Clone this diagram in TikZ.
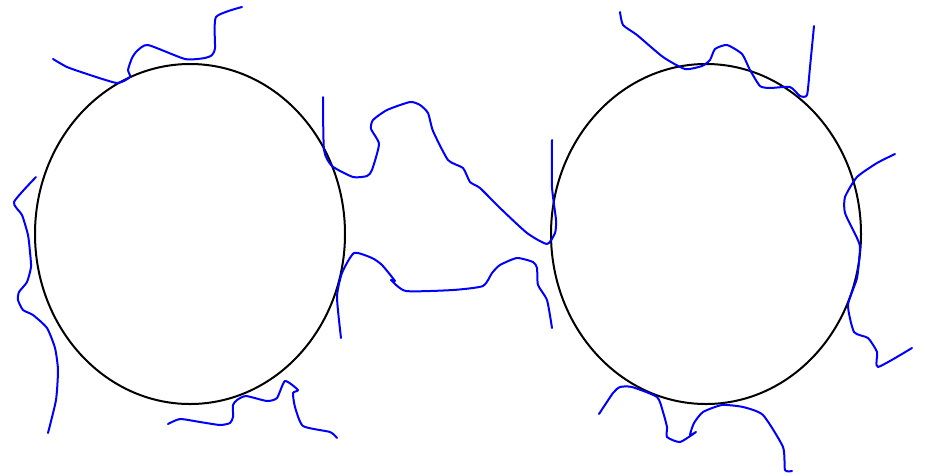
\documentclass[tikz,border=0pt]{standalone}
\usepackage{tikz}

\begin{document}
\begin{tikzpicture}[x=1pt,y=-1pt,
  grain/.style={draw=black,line width=2pt},
  chain/.style={draw=blue,line width=2pt,line join=round,line cap=round}]
\useasboundingbox (0,0) rectangle (926,475);
% particles
\coordinate (pL) at (190,234);
\coordinate (pR) at (706,234);
\draw[grain] (pL) ellipse [x radius=155pt,y radius=170pt];
\draw[grain] (pR) ellipse [x radius=155pt,y radius=170pt];
% grafted chains, left particle
\draw[chain] plot[smooth,tension=0.35] coordinates {(53,59) (67,67) (87,74) (117,83) (130,77) (128,70) (132,58) (137,51) (148,45) (185,59) (205,58) (212,55) (215,48) (216,17) (242,7)};
\draw[chain] plot[smooth,tension=0.35] coordinates {(36,177) (14,202) (22,215) (28,235) (30,252) (31,267) (27,282) (19,292) (18,300) (23,310) (33,315) (47,328) (55,348) (58,370) (56,400) (48,433)};
\draw[chain] plot[smooth,tension=0.35] coordinates {(168,424) (180,419) (200,422) (220,425) (230,423) (233,417) (233,405) (237,400) (246,396) (267,401) (277,398) (285,381) (298,390) (293,393) (295,407) (303,426) (330,432) (337,438)};
% chains between the particles
\draw[chain] plot[smooth,tension=0.35] coordinates {(323,97) (324,150) (332,166) (353,177) (367,176) (372,170) (379,144) (371,129) (373,120) (387,110) (410,102) (420,105) (428,113) (433,131) (448,160) (463,168) (470,182) (480,188) (500,208) (527,233) (547,244) (555,233) (556,220) (552,187) (552,140)};
\draw[chain] plot[smooth,tension=0.35] coordinates {(341,338) (337,297) (342,273) (354,253) (372,258) (382,265) (395,281) (391,280) (406,291) (453,290) (483,286) (492,273) (500,265) (517,258) (533,262) (537,268) (538,285) (547,300) (552,328)};
% grafted chains, right particle
\draw[chain] plot[smooth,tension=0.35] coordinates {(620,12) (623,25) (637,35) (663,57) (685,69) (702,66) (710,60) (715,49) (727,45) (742,54) (750,70) (760,86) (770,88) (790,87) (800,96) (807,95) (810,67) (814,26)};
\draw[chain] plot[smooth,tension=0.35] coordinates {(895,154) (877,163) (857,177) (845,197) (845,213) (857,238) (860,248) (857,278) (848,305) (854,332) (868,338) (877,352) (878,367) (912,348)};
\draw[chain] plot[smooth,tension=0.35] coordinates {(599,414) (613,393) (620,387) (632,387) (657,397) (663,412) (667,427) (667,437) (680,442) (696,432) (690,435) (694,423) (703,412) (722,405) (743,407) (763,415) (783,447) (785,470) (792,471)};
\end{tikzpicture}
\end{document}
